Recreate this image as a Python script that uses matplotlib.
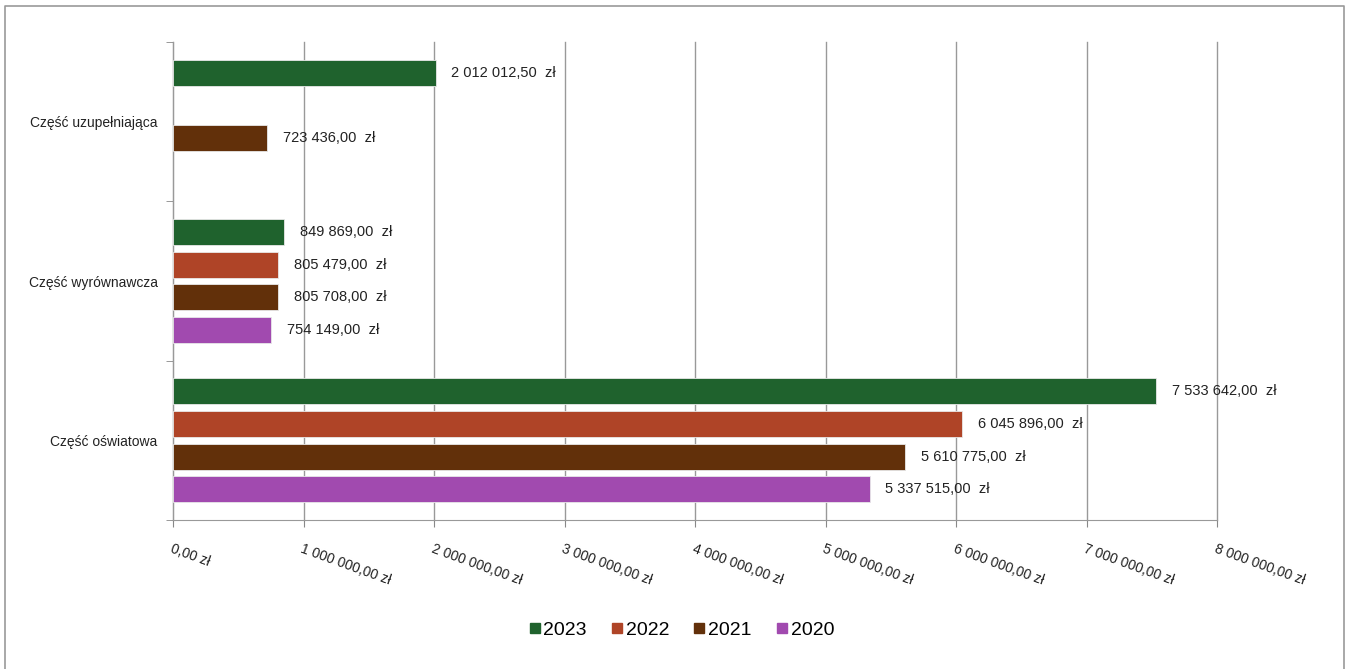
import numpy as np
import matplotlib.pyplot as plt
from matplotlib.lines import Line2D

plt.rcParams['font.family'] = ['Liberation Sans Narrow', 'Liberation Sans', 'DejaVu Sans']

# data
categories = ['Część oświatowa', 'Część wyrównawcza', 'Część uzupełniająca']
years = ['2023', '2022', '2021', '2020']
values = {
    '2023': [7533642.00, 849869.00, 2012012.50],
    '2022': [6045896.00, 805479.00, None],
    '2021': [5610775.00, 805708.00, 723436.00],
    '2020': [5337515.00, 754149.00, None],
}
colors = {'2023': '#1F622D', '2022': '#AF4427', '2021': '#62300A', '2020': '#A14AAF'}
xticks = np.arange(0, 8000001, 1000000)


def pln(v):
    s = f'{v:,.2f}'.replace(',', ' ').replace('.', ',')
    return s


fig = plt.figure(figsize=(13.49, 6.69), dpi=100)
ax = fig.add_axes([173/1349, 1-520/669, (1217-173)/1349, (520-42)/669])

step = 0.205
offsets = [1.5*step, 0.5*step, -0.5*step, -1.5*step]
for yr, off in zip(years, offsets):
    for i, v in enumerate(values[yr]):
        if v is None:
            continue
        ax.barh(i + off, v, height=0.163, color=colors[yr], edgecolor='#e8e8e8',
                linewidth=0.6, zorder=3)
        ax.text(v + 120000, i + off, pln(v) + '  zł', va='center', ha='left',
                fontsize=10.5, color='#222222', zorder=4)

ax.set_xlim(0, 8000000)
ax.set_ylim(-0.5, 2.5)
ax.set_xticks(xticks)
ax.set_xticklabels([pln(t) + ' zł' for t in xticks], rotation=-20, ha='left',
                   va='top', rotation_mode='anchor', fontsize=10, color='#222222')
ax.set_yticks(range(3))
ax.set_yticklabels(categories, fontsize=10, color='#222222')
ax.set_yticks([-0.5, 0.5, 1.5, 2.5], minor=True)
ax.tick_params(axis='y', which='major', length=0, pad=11)
ax.tick_params(axis='y', which='minor', length=5, color='#888888')
ax.tick_params(axis='x', length=5, color='#888888', pad=11)
ax.grid(axis='x', color='#999999', linewidth=1, zorder=0)
for gl in ax.get_xgridlines():
    gl.set_clip_on(False)
for s in ['top', 'right']:
    ax.spines[s].set_visible(False)
for s in ['left', 'bottom']:
    ax.spines[s].set_color('#999999')

handles = [Line2D([], [], marker='s', linestyle='', markersize=7,
                  color=colors[yr]) for yr in years]
fig.legend(handles, years, loc='center', bbox_to_anchor=(680/1349, 1-630/669),
           ncol=4, frameon=False, fontsize=14, handletextpad=0.0,
           columnspacing=1.1, handlelength=0.9)

# outer border
fig.add_artist(Line2D([5/1349, 5/1349, 1344/1349, 1344/1349],
                      [0, 1-6/669, 1-6/669, 0], color='#999999', linewidth=1.2,
                      transform=fig.transFigure))

fig.savefig('out.png', dpi=100)
